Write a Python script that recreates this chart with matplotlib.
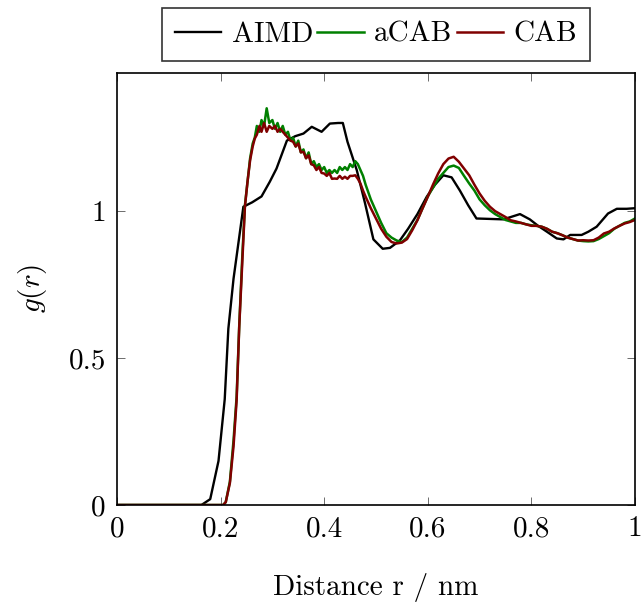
import matplotlib
matplotlib.use("Agg")
import matplotlib.pyplot as plt

# AIMD reference (coarse grid)
aimd_r = [0.0, 0.163, 0.180, 0.196, 0.208, 0.215, 0.225, 0.244, 0.261, 0.279, 0.295,
          0.308, 0.328, 0.344, 0.360, 0.376, 0.395, 0.411, 0.427, 0.436, 0.445, 0.463,
          0.479, 0.495, 0.513, 0.527, 0.546, 0.562, 0.580, 0.598, 0.614, 0.630, 0.646,
          0.662, 0.678, 0.694, 0.746, 0.778, 0.797, 0.813, 0.830, 0.849, 0.862, 0.875,
          0.897, 0.910, 0.926, 0.948, 0.965, 0.984, 1.0]
aimd_g = [0.0, 0.0, 0.02, 0.15, 0.36, 0.60, 0.77, 1.015, 1.03, 1.05, 1.10,
          1.145, 1.24, 1.255, 1.264, 1.287, 1.27, 1.298, 1.30, 1.30, 1.236, 1.139,
          1.026, 0.904, 0.872, 0.875, 0.90, 0.94, 0.99, 1.049, 1.09, 1.122, 1.115,
          1.07, 1.02, 0.975, 0.972, 0.99, 0.972, 0.95, 0.93, 0.907, 0.904, 0.919,
          0.919, 0.93, 0.947, 0.992, 1.008, 1.008, 1.01]

# aCAB and CAB
cab_r = [0.0, 0.205, 0.210, 0.218, 0.225, 0.231, 0.236, 0.242, 0.247, 0.252, 0.257,
         0.262, 0.266, 0.270, 0.275, 0.279, 0.284, 0.289, 0.294, 0.300, 0.305, 0.310,
         0.315, 0.320, 0.325, 0.330, 0.335, 0.340, 0.345, 0.350, 0.355, 0.360, 0.365,
         0.370, 0.375, 0.380, 0.385, 0.390, 0.395, 0.400, 0.405, 0.410, 0.415, 0.420,
         0.425, 0.430, 0.435, 0.440, 0.445, 0.450, 0.455, 0.460, 0.465, 0.470, 0.475,
         0.480, 0.490, 0.500, 0.510, 0.520, 0.530, 0.540, 0.550, 0.560, 0.570, 0.580,
         0.590, 0.600, 0.610, 0.620, 0.630, 0.640, 0.650, 0.660, 0.670, 0.680, 0.690,
         0.700, 0.710, 0.720, 0.730, 0.740, 0.750, 0.760, 0.770, 0.780, 0.790, 0.800,
         0.810, 0.820, 0.830, 0.840, 0.850, 0.860, 0.870, 0.880, 0.890, 0.900, 0.910,
         0.920, 0.930, 0.940, 0.950, 0.960, 0.970, 0.980, 0.990, 1.0]
acab_g = [0.0, 0.0, 0.01, 0.08, 0.22, 0.37, 0.61, 0.85, 1.02, 1.10, 1.18,
          1.23, 1.25, 1.29, 1.27, 1.31, 1.29, 1.35, 1.30, 1.31, 1.28, 1.30,
          1.27, 1.29, 1.26, 1.27, 1.24, 1.25, 1.22, 1.24, 1.20, 1.21, 1.18,
          1.20, 1.16, 1.17, 1.15, 1.16, 1.14, 1.15, 1.13, 1.14, 1.13, 1.14,
          1.13, 1.15, 1.14, 1.15, 1.14, 1.16, 1.15, 1.17, 1.16, 1.14, 1.12,
          1.09, 1.04, 1.00, 0.96, 0.925, 0.91, 0.90, 0.895, 0.91, 0.94, 0.97,
          1.01, 1.05, 1.08, 1.11, 1.13, 1.15, 1.155, 1.147, 1.12, 1.094, 1.07,
          1.04, 1.02, 1.003, 0.99, 0.98, 0.97, 0.965, 0.96, 0.96, 0.955, 0.952,
          0.95, 0.947, 0.94, 0.93, 0.925, 0.918, 0.91, 0.905, 0.90, 0.898, 0.897,
          0.898, 0.905, 0.915, 0.925, 0.94, 0.95, 0.96, 0.965, 0.975]
cab_g = [0.0, 0.0, 0.01, 0.075, 0.20, 0.357, 0.606, 0.83, 1.015, 1.10, 1.173,
         1.22, 1.247, 1.26, 1.29, 1.27, 1.30, 1.27, 1.29, 1.28, 1.29, 1.27,
         1.28, 1.27, 1.26, 1.25, 1.24, 1.236, 1.22, 1.23, 1.20, 1.202, 1.18,
         1.19, 1.16, 1.156, 1.14, 1.15, 1.13, 1.128, 1.12, 1.13, 1.11, 1.111,
         1.11, 1.12, 1.11, 1.117, 1.11, 1.12, 1.12, 1.122, 1.11, 1.094, 1.07,
         1.049, 1.01, 0.975, 0.94, 0.913, 0.895, 0.89, 0.893, 0.905, 0.935, 0.969,
         1.01, 1.049, 1.09, 1.128, 1.16, 1.179, 1.185, 1.168, 1.145, 1.122, 1.09,
         1.06, 1.035, 1.015, 1.00, 0.99, 0.98, 0.969, 0.965, 0.96, 0.955, 0.95,
         0.95, 0.947, 0.94, 0.93, 0.925, 0.918, 0.91, 0.905, 0.90, 0.901, 0.90,
         0.901, 0.91, 0.924, 0.93, 0.941, 0.95, 0.958, 0.963, 0.97]

plt.rcParams['font.family'] = 'serif'
plt.rcParams['font.serif'] = ['cmr10']
plt.rcParams['mathtext.fontset'] = 'cm'
plt.rcParams['axes.formatter.use_mathtext'] = True
plt.rcParams['font.size'] = 21

fig = plt.figure(figsize=(6.41, 6.02), dpi=100)
ax = fig.add_axes([0.1825, 0.1611, 0.8081, 0.7176])

ax.plot(aimd_r, aimd_g, color='black', lw=1.7, label='AIMD')
ax.plot(cab_r, acab_g, color='#008000', lw=1.8, label='aCAB')
ax.plot(cab_r, cab_g, color='#800000', lw=1.8, label='CAB')

ax.set_xlim(0, 1)
ax.set_ylim(0, 1.47)
ax.set_xticks([0, 0.2, 0.4, 0.6, 0.8, 1])
ax.set_xticklabels(['0', '0.2', '0.4', '0.6', '0.8', '1'])
ax.set_yticks([0, 0.5, 1])
ax.set_yticklabels(['0', '0.5', '1'])
ax.tick_params(direction='in', top=True, right=True, length=6, width=0.6,
               color='#555555', pad=8)
for s in ax.spines.values():
    s.set_linewidth(1.2)

ax.set_xlabel('Distance r / nm', labelpad=22)
ax.set_ylabel('$g(r)$', labelpad=14)

leg = ax.legend(loc='lower center', bbox_to_anchor=(0.5, 1.028), ncol=3,
                frameon=True, fancybox=False, edgecolor='black',
                handlelength=1.6, handletextpad=0.35, columnspacing=0.15,
                borderpad=0.45, borderaxespad=0)
leg.get_frame().set_linewidth(1.2)

fig.savefig('out.png', dpi=100)
